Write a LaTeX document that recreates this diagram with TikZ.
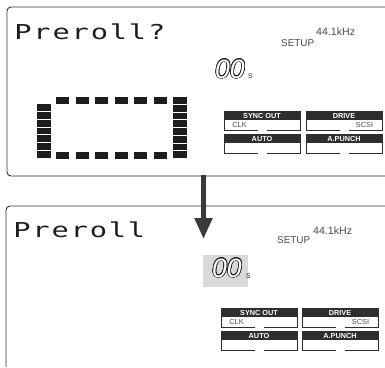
\documentclass[tikz,border=0pt]{standalone}
\usepackage{xcolor}
\usepackage{fontspec}
\usepackage[copies]{contour}
\usepackage{tikz}
\usetikzlibrary{arrows.meta}
\setmainfont{Liberation Sans}
\newfontfamily\lcdfont{DejaVu Sans Mono}
\definecolor{ink}{HTML}{1D1D1F}
\definecolor{frame}{HTML}{2E2E2E}
\definecolor{label}{HTML}{4A4A4A}
\definecolor{shaft}{HTML}{3A3A3C}
\definecolor{hilite}{HTML}{D9D9D9}
\contourlength{0.65pt}
\contournumber{16}

\begin{document}
\begin{tikzpicture}[x=1pt,y=-1pt,>=Latex,
  panel/.style={draw=frame,line width=0.9pt,rounded corners=4pt},
  flow/.style={draw=shaft,line width=5pt,-{Triangle[length=21pt,width=17pt]}},
  lcd/.style={font=\lcdfont\fontsize{20.5}{20.5}\selectfont,xscale=1.4,anchor=base,inner sep=0pt,text=ink},
  digits/.style={font=\itshape\fontsize{26.5}{26.5}\selectfont,anchor=base west,inner sep=0pt},
  unit/.style={font=\fontsize{9}{9}\selectfont,text=label,anchor=base west,inner sep=0pt},
  mode/.style={font=\fontsize{9.9}{9.9}\selectfont,text=label,anchor=base west,inner sep=0pt},
  rate/.style={font=\fontsize{10.6}{10.6}\selectfont,text=label,anchor=base west,inner sep=0pt},
  seg/.style={fill=ink},
  hdr/.style={fill=frame},
  hdrtext/.style={font=\bfseries\fontsize{7.3}{7.3}\selectfont,text=white,inner sep=0pt},
  subtext/.style={font=\fontsize{7.4}{7.4}\selectfont,text=label,inner sep=0pt,anchor=base}]
\useasboundingbox (0,0) rectangle (385,367);

% arrow between the two screens
\coordinate (pa) at (203.5,175);
\coordinate (pb) at (203.5,239);
\draw[flow] (pa) -- (pb);

% screen outlines (cut at the right)
\draw[panel] (385,7) -- (7,7) -- (7,176) -- (385,176);
\draw[panel] (385,206) -- (6,206) -- (6,367);

% first screen
\foreach \ch [count=\i from 0] in {P,r,e,r,o,l,l,?}
  \node[lcd] (ta\i) at (23+19.1*\i,39) {\ch};
\node[mode] (setupa) at (281,46) {SETUP};
\node[rate] (ratea) at (316,35) {44.1kHz};
\node[digits] (numa) at (215,78) {{\color{white}\contour{ink}{00}}};
\node[unit] (unita) at (248,78) {s};

% bar frame
\foreach \i in {0,...,5}{
  \fill[seg] (56+19.6*\i,97) rectangle ++(13,7);
  \fill[seg] (56+19.6*\i,152) rectangle ++(13,7);}
\foreach \i in {0,...,6}
  \fill[seg] (37,104+7.86*\i) rectangle ++(14,6.8);
\foreach \i in {0,...,7}
  \fill[seg] (173,97+7.75*\i) rectangle ++(14,6.8);

% second screen
\foreach \ch [count=\i from 0] in {P,r,e,r,o,l,l}
  \node[lcd] (tb\i) at (22+19.1*\i,237) {\ch};
\node[mode] (setupb) at (277,243) {SETUP};
\node[rate] (rateb) at (313,234) {44.1kHz};
\fill[hilite] (203,255) rectangle (248,287);
\node[digits] (numb) at (212,277) {{\color{white}\contour{ink}{00}}};
\node[unit] (unitb) at (246,278) {s};

% status boxes of both screens
\foreach \bx/\by/\lab/\sub/\sx [count=\k] in {
  224/111/SYNC OUT/CLK/15.5, 306/111/DRIVE/SCSI/58.5, 224/134/AUTO//0, 306/134/A.PUNCH//0,
  221/308/SYNC OUT/CLK/15.5, 302/308/DRIVE/SCSI/58.5, 221/331/AUTO//0, 302/331/A.PUNCH//0}{
  \fill[hdr] (\bx,\by) rectangle ++(76,9);
  \node[hdrtext] (box\k) at (\bx+38,\by+4.7) {\lab};
  \node[subtext] (sub\k) at (\bx+\sx,\by+16) {\sub};
  \draw[frame,line width=0.8pt] (\bx+34,\by+19) -| (\bx,\by) -| (\bx+76,\by+19) -- (\bx+43,\by+19);}
\end{tikzpicture}
\end{document}
